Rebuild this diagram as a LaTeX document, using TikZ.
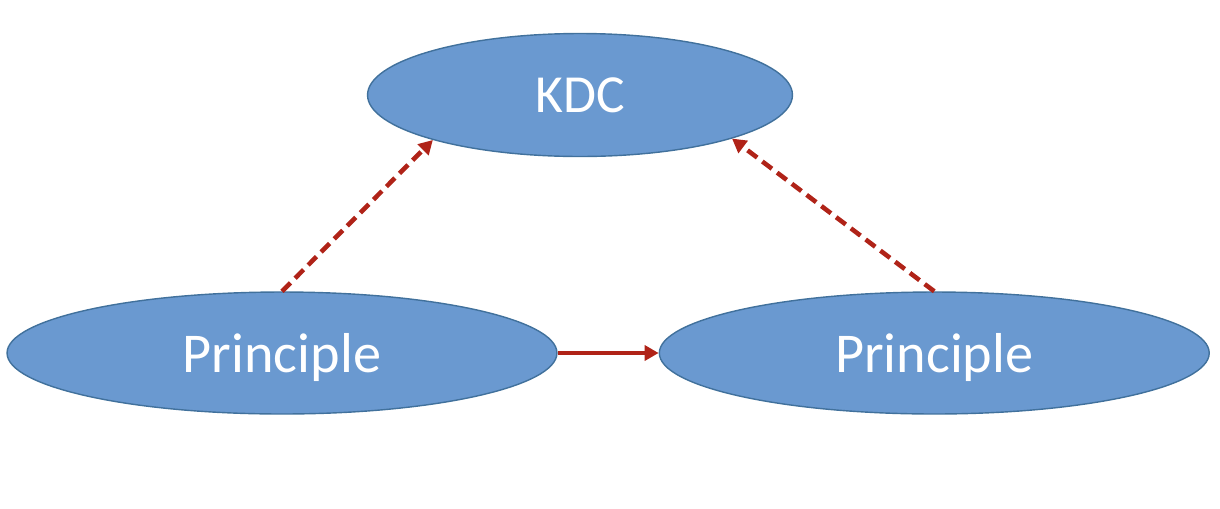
\documentclass[tikz,border=0pt]{standalone}
\usepackage{fontspec}
\setmainfont{Carlito}
\usepackage{tikz}
\usetikzlibrary{shapes.geometric, arrows.meta, positioning}
\definecolor{ovalblue}{RGB}{106, 153, 208}
\definecolor{edgeblue}{RGB}{65, 113, 156}
\definecolor{arrowred}{RGB}{176, 35, 24}

\begin{document}
\begin{tikzpicture}[
    x=0.02cm, y=-0.02cm,
    oval/.style={ellipse, draw=edgeblue, line width=0.8pt, fill=ovalblue,
                 inner sep=0pt, text=white, text centered},
    arrow/.style={-{Triangle[length=0.28cm, width=0.3cm]}, line width=2.8pt, arrowred},
    dasharrow/.style={arrow, line width=2.6pt, dash pattern=on 0.24cm off 0.13cm}
]
    \useasboundingbox (0,0) rectangle (1220,508);

    % KDC
    \node[oval, minimum width=8.5cm, minimum height=2.46cm,
          font=\fontsize{30.5}{36}\selectfont] (kdc) at (580,95) {KDC};

    % Principles
    \node[oval, minimum width=11cm, minimum height=2.44cm, text depth=0pt,
          font=\fontsize{32}{38}\selectfont] (left) at (282,353) {Principle};
    \node[oval, minimum width=11cm, minimum height=2.44cm, text depth=0pt,
          font=\fontsize{32}{38}\selectfont, right=2.02cm of left] (right) {Principle};

    % Connections
    \draw[dasharrow] (left.north) -- (kdc.197);
    \draw[dasharrow] (right.north) -- (kdc.344);
    \draw[arrow] (left) -- (right);

\end{tikzpicture}
\end{document}
